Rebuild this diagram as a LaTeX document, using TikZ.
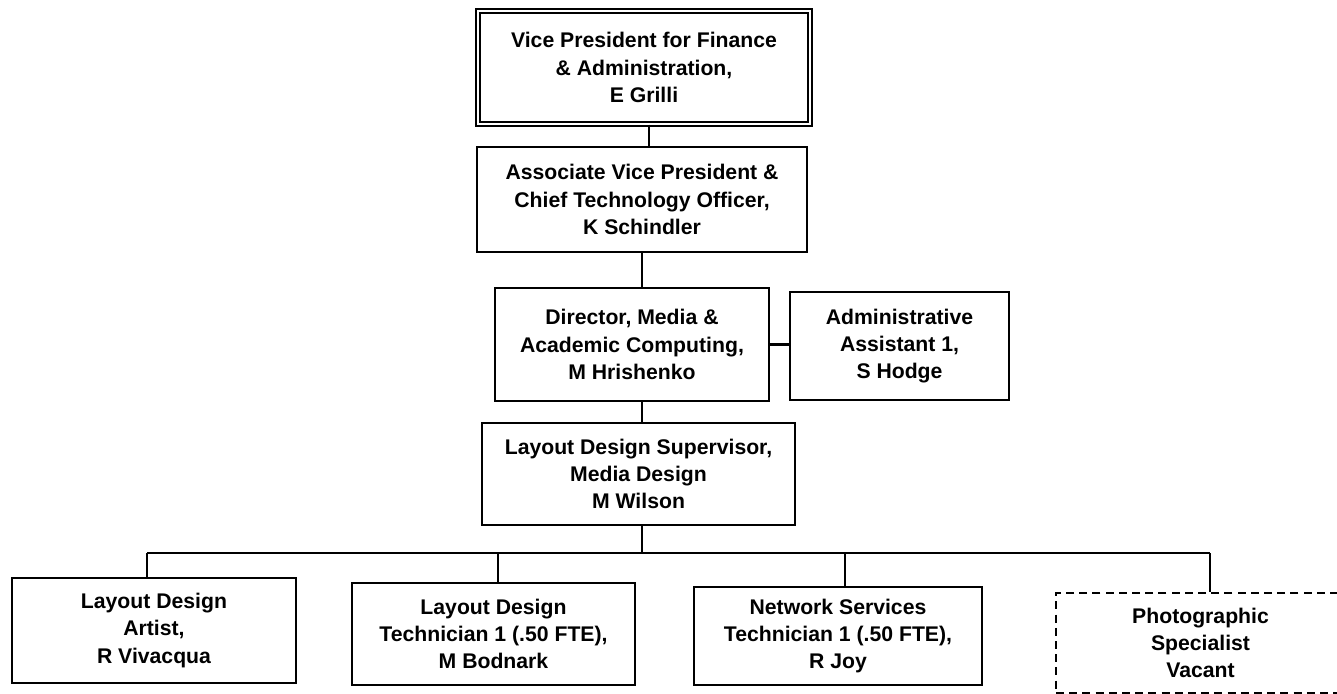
\documentclass[tikz,border=0pt]{standalone}
\usepackage{fontspec}
\setmainfont{Liberation Sans}
\begin{document}
\begin{tikzpicture}[x=0.5pt,y=-0.5pt,
  box/.style={draw, line width=1.1pt, align=center, inner sep=0pt,
    font=\fontsize{10.6}{13.6}\selectfont\bfseries},
  topbox/.style={box, double, line width=0.7pt, double distance=1.4pt},
  vacbox/.style={box, dash pattern=on 4pt off 2.6pt},
  link/.style={line width=1.1pt}]
\useasboundingbox (0,0) rectangle (1337,694);
\node[topbox, minimum width=166pt, minimum height=56.5pt] (vp) at (644,67.5)
  {Vice President for Finance\\ \& Administration,\\ E Grilli};
\node[box, minimum width=165pt, minimum height=52.5pt] (avp) at (642,199.5)
  {Associate Vice President \&\\ Chief Technology Officer,\\ K Schindler};
\node[box, minimum width=137pt, minimum height=56.5pt] (dir) at (632,344.5)
  {Director, Media \&\\ Academic Computing,\\ M Hrishenko};
\node[box, minimum width=109.5pt, minimum height=54pt] (adm) at (899.5,346)
  {Administrative\\ Assistant 1,\\ S Hodge};
\node[box, minimum width=156.5pt, minimum height=51pt] (sup) at (638.5,474)
  {Layout Design Supervisor,\\ Media Design\\ M Wilson};
\node[box, minimum width=142pt, minimum height=52.5pt] (a) at (154,630.5)
  {Layout Design\\ Artist,\\ R Vivacqua};
\node[box, minimum width=141.5pt, minimum height=51pt] (b) at (493.5,634)
  {Layout Design\\ Technician 1 (.50 FTE),\\ M Bodnark};
\node[box, minimum width=144pt, minimum height=49pt] (c) at (838,636)
  {Network Services\\ Technician 1 (.50 FTE),\\ R Joy};
\node[vacbox, minimum width=144.5pt, minimum height=50pt] (d) at (1200.5,643)
  {Photographic\\ Specialist\\ Vacant};
\coordinate (bus) at (642,553);
\coordinate (ja) at (147,553);
\coordinate (jb) at (498,553);
\coordinate (jc) at (845,553);
\coordinate (jd) at (1210,553);
\coordinate (jv) at (649,0);
\draw[link] (vp.south -| jv) -- (avp.north -| jv);
\draw[link] (avp.south -| bus) -- (dir.north -| bus);
\draw[link] (dir.south -| bus) -- (sup.north -| bus);
\draw[link] (sup.south -| bus) -- (bus);
\draw[link] (dir.east) -- (adm.west |- dir.east);
\draw[link] (ja) -- (jd);
\draw[link] (ja) -- (ja |- a.north);
\draw[link] (jb) -- (jb |- b.north);
\draw[link] (jc) -- (jc |- c.north);
\draw[link] (jd) -- (jd |- d.north);
\end{tikzpicture}
\end{document}
